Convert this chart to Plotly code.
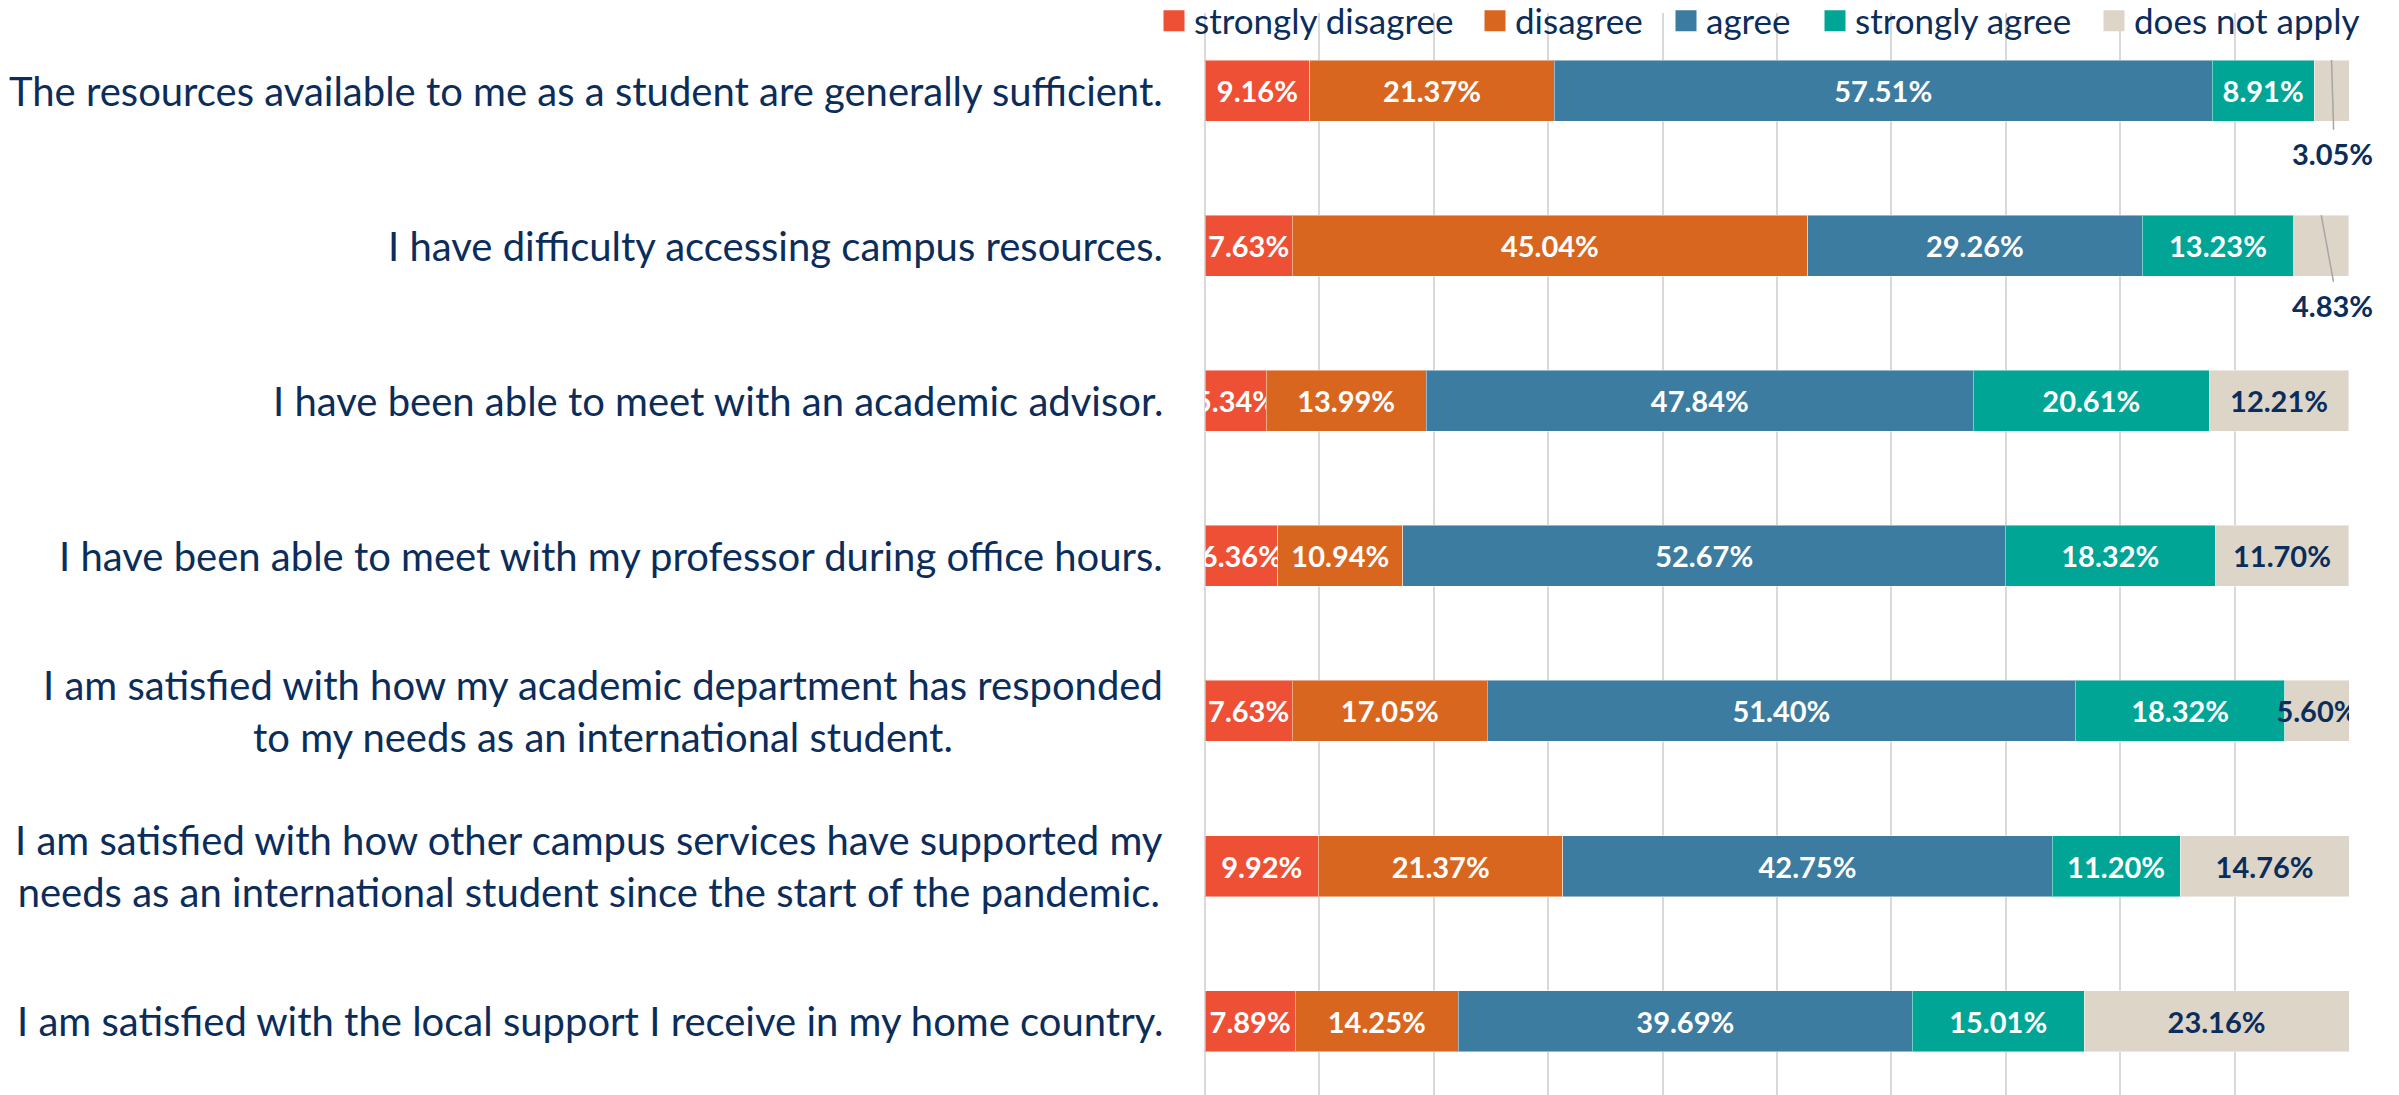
import plotly.graph_objects as go

questions = [
    "The resources available to me as a student are generally sufficient.",
    "I have difficulty accessing campus resources.",
    "I have been able to meet with an academic advisor.",
    "I have been able to meet with my professor during office hours.",
    "I am satisfied with how my academic department has responded<br>to my needs as an international student.",
    "I am satisfied with how other campus services have supported my<br>needs as an international student since the start of the pandemic.",
    "I am satisfied with the local support I receive in my home country.",
]
series_names = ["strongly disagree", "disagree", "agree", "strongly agree", "does not apply"]
strongly_disagree = [9.16, 7.63, 5.34, 6.36, 7.63, 9.92, 7.89]
disagree = [21.37, 45.04, 13.99, 10.94, 17.05, 21.37, 14.25]
agree = [57.51, 29.26, 47.84, 52.67, 51.40, 42.75, 39.69]
strongly_agree = [8.91, 13.23, 20.61, 18.32, 18.32, 11.20, 15.01]
does_not_apply = [3.05, 4.83, 12.21, 11.70, 5.60, 14.76, 23.16]
x_ticks = [0, 10, 20, 30, 40, 50, 60, 70, 80, 90, 100]

colors = ["#EE5035", "#D9661F", "#3C7CA0", "#00A596", "#DDD5C8"]
label_colors = ["white", "white", "white", "white", "#0B2D5B"]
NAVY = "#0B2D5B"
FONT = "Lato"

# page body has an 8px margin; figure is sized to fill the rest of the window
W, H = 2391, 1087
legend_x_px = [1146, 1467, 1658, 1807, 2086]   # legend entry positions (figure px)
legend_y_px = 13

all_series = [strongly_disagree, disagree, agree, strongly_agree, does_not_apply]
rows = list(range(len(questions)))
BAR_W = 0.393

fig = go.Figure()
for k, (name, vals) in enumerate(zip(series_names, all_series)):
    if k == len(all_series) - 1:
        texts = ["" if v < 5 else f"<b>{v:.2f}%</b>" for v in vals]
    else:
        texts = [f"<b>{v:.2f}%</b>" for v in vals]
    fig.add_trace(go.Bar(
        name=name, y=rows, x=vals, orientation="h", width=BAR_W,
        marker=dict(color=colors[k], line=dict(color="rgba(255,255,255,0.45)", width=1)),
        text=texts, textposition="inside", insidetextanchor="middle",
        constraintext="none", textangle=0,
        textfont=dict(family=FONT, size=29, color=label_colors[k]),
        hoverinfo="skip", cliponaxis=True, showlegend=False,
        legendgroup=name,
    ))

# legend entries (one legend per entry so each can be placed like the original)
for k, name in enumerate(series_names):
    lg = "legend" if k == 0 else f"legend{k + 1}"
    fig.add_trace(go.Scatter(
        x=[None], y=[None], mode="markers", name=name, legendgroup=name,
        marker=dict(symbol="square", size=16, color=colors[k],
                    line=dict(color=colors[k], width=5)),
        showlegend=True, legend=lg, hoverinfo="skip",
    ))
    fig.update_layout({lg: dict(
        orientation="h", x=legend_x_px[k] / W, xref="container", xanchor="left",
        y=1 - legend_y_px / H, yref="container", yanchor="middle",
        bgcolor="rgba(0,0,0,0)", borderwidth=0,
        font=dict(family=FONT, size=35, color=NAVY),
        itemclick=False, itemdoubleclick=False,
    )})

# callout labels for small "does not apply" values
label_offset = {0: (0.09, 0.403), 1: (0.98, 0.383)}
for i in rows:
    v = does_not_apply[i]
    if v < 5:
        start = sum(s[i] for s in all_series[:-1])
        cx = start + v / 2
        dx, dy = label_offset.get(i, (0.5, 0.4))
        lx, ly = cx + dx, i + dy
        fig.add_shape(type="line", xref="x", yref="y",
                      x0=cx, y0=i - BAR_W / 2, x1=lx + 0.09, y1=ly - 0.15,
                      line=dict(color="#A6A6A6", width=1.5), layer="above")
        fig.add_annotation(
            x=lx, y=ly, xref="x", yref="y", xanchor="center", yanchor="middle",
            text=f"<b>{v:.2f}%</b>", showarrow=False,
            font=dict(family=FONT, size=29, color=NAVY),
        )

# category labels
for i, q in enumerate(questions):
    fig.add_annotation(
        x=0, y=i, xref="paper", yref="y", xanchor="right", yanchor="middle",
        xshift=-40, text=q, showarrow=False, align="center",
        font=dict(family=FONT, size=40, color=NAVY),
    )

fig.update_layout(
    barmode="stack",
    width=W, height=H,
    margin=dict(l=1197, r=49.5, t=5, b=0, pad=0, autoexpand=False),
    plot_bgcolor="white", paper_bgcolor="white",
    showlegend=True,
    xaxis=dict(range=[0, 100], tickvals=x_ticks, showticklabels=False,
               showgrid=True, gridcolor="#D9D9D9", gridwidth=2,
               zeroline=True, zerolinecolor="#D9D9D9", zerolinewidth=2,
               showline=False, fixedrange=True),
    yaxis=dict(range=[6.476, -0.5], showticklabels=False, showgrid=False,
               zeroline=False, showline=False, fixedrange=True),
    font=dict(family=FONT, color=NAVY),
)

fig.write_html("out.html")
